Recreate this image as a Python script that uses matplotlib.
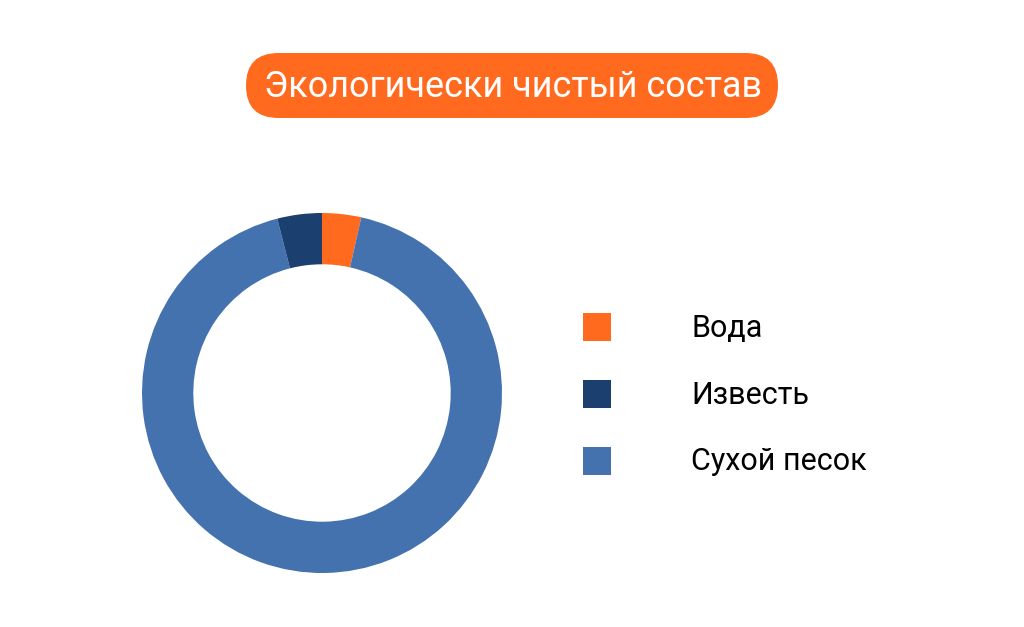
import matplotlib
matplotlib.use('Agg')
import matplotlib.pyplot as plt
from matplotlib.patches import FancyBboxPatch, Rectangle

# Данные
labels = ['Вода', 'Известь', 'Сухой песок']
values = [3.5, 4.0, 92.5]
colors = ['#FF6A1F', '#1B3F6E', '#4472AE']
title = 'Экологически чистый состав'

plt.rcParams['font.family'] = ['Roboto', 'DejaVu Sans']

fig = plt.figure(figsize=(10.24, 6.27), dpi=100)

# Фон в пиксельных координатах
bg = fig.add_axes([0, 0, 1, 1])
bg.set_xlim(0, 1024)
bg.set_ylim(627, 0)
bg.axis('off')

# Заголовок в оранжевой «таблетке»
pill = FancyBboxPatch((246, 53), 532, 65, boxstyle='round,pad=0,rounding_size=32.5',
                      fc=colors[0], ec='none')
bg.add_patch(pill)
bg.text(513, 87, title, color='white', fontsize=25.9, ha='center', va='center')

# Кольцевая диаграмма: Вода по часовой от верха, Известь против часовой
ax = fig.add_axes([142/1024, 54/627, 360/1024, 360/627])
order = [0, 2, 1]
ax.pie([values[i] for i in order], colors=[colors[i] for i in order],
       startangle=90, counterclock=False, radius=1,
       wedgeprops=dict(width=0.285, edgecolor='none'))
ax.set_xlim(-1, 1)
ax.set_ylim(-1, 1)
ax.set_aspect('equal')

# Легенда
for i, lab in enumerate(labels):
    y = 327 + 67*i
    bg.add_patch(Rectangle((583, y - 14), 28, 28, fc=colors[i], ec='none'))
    bg.text(691, y + 1, lab, fontsize=22, color='black', ha='left', va='center')

plt.savefig('out.png', dpi=100)
